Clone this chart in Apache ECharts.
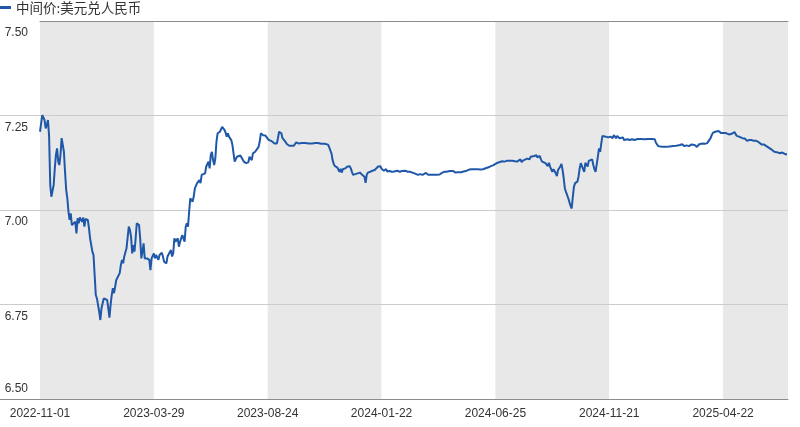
<!DOCTYPE html>
<html>
<head>
<meta charset="utf-8">
<script src="https://cdn.jsdelivr.net/npm/echarts@6/dist/echarts.min.js"></script>
<style>
html,body{margin:0;padding:0;background:#fff;}
#chart{width:800px;height:427px;}
</style>
</head>
<body>
<div id="chart"></div>
<script>
const seriesName = '中间价:美元兑人民币';
const tickLabels = ['2022-11-01','2023-03-29','2023-08-24','2024-01-22','2024-06-25','2024-11-21','2025-04-22'];
const yTicks = [6.50, 6.75, 7.00, 7.25, 7.50];
const totalDays = 657;
// trading-day index of each reading
const xDays = [
0,2,4,5,6,7,8,9,10,12,13,14,15,16,17,18,19,20,21,22,23,24,25,26,27,28,29,31,32,33,34,35,37,38,39,40,42,43,44,46,47,48,49,50,51,52,53,54,56,57,59,60,61,62,63,64,65,66,67,68,70,71,72,73,74,76,77,78,79,80,81,82,83,84,85,87,88,89,90,91,92,94,95,96,97,98,99,100,101,102,104,105,106,107,108,109,
111,112,113,115,116,117,118,119,121,122,123,124,125,127,128,129,130,131,132,134,135,136,137,138,139,140,141,142,143,145,146,147,148,149,150,151,152,153,154,155,156,158,159,160,161,162,163,164,165,166,168,169,170,171,172,173,174,176,177,179,180,181,182,183,184,186,187,188,189,190,192,193,194,195,196,198,199,201,203,204,206,208,209,210,211,212,213,215,217,219,
221,223,225,227,230,233,236,239,242,244,247,250,253,254,256,257,258,259,261,262,263,264,265,266,267,268,270,271,272,273,274,275,277,278,279,280,281,283,284,285,286,287,288,290,292,294,295,297,299,300,302,304,305,307,309,311,312,314,316,318,319,321,323,325,326,
327,329,332,334,336,337,339,341,342,345,348,351,353,355,357,360,363,365,367,368,370,372,374,375,377,379,381,384,385,387,389,392,394,396,398,400,402,403,406,408,410,412,413,415,417,419,420,422,423,425,426,428,430,431,432,434,436,437,439,
440,441,442,444,445,446,447,448,450,451,452,453,454,455,457,458,459,460,461,462,464,465,466,467,468,469,470,471,472,473,474,475,476,478,479,480,481,482,483,485,486,487,488,489,490,491,492,493,494,495,497,499,501,503,504,506,507,508,509,510,512,513,514,516,518,520,522,523,525,528,531,534,537,540,541,543,545,547,
550,553,556,559,562,564,566,568,570,572,573,575,577,579,580,582,584,586,587,589,590,591,593,594,596,597,598,600,601,602,603,605,607,608,610,611,612,614,615,617,619,620,621,623,624,625,627,629,631,632,634,636,638,639,641,643,645,647,648,650,652,653,655,656
];
const rates = [
7.207,7.251,7.238,7.216,7.225,7.238,7.194,7.066,7.035,7.066,7.110,7.146,7.163,7.128,7.119,7.146,7.190,7.194,7.154,7.101,7.053,7.031,6.996,6.974,6.991,6.960,6.956,6.969,6.938,6.978,6.965,6.980,6.969,6.980,6.956,6.976,6.974,6.952,6.925,6.890,6.881,6.828,6.775,6.766,6.771,6.731,6.709,6.740,6.766,6.771,6.762,6.740,6.715,6.749,6.775,6.793,6.780,6.797,6.815,6.815,6.833,6.854,6.868,6.859,6.877,6.899,6.897,6.956,6.947,6.929,6.885,6.907,6.890,6.925,6.965,6.960,6.925,6.872,6.890,6.912,6.872,6.872,6.874,6.868,6.841,6.872,6.877,6.885,6.872,6.881,6.868,6.881,6.877,6.887,6.877,6.863,
6.859,6.877,6.881,6.894,6.877,6.885,6.925,6.916,6.925,6.903,6.916,6.925,6.934,6.916,6.956,6.965,6.956,6.996,7.031,7.022,7.035,7.057,7.053,7.071,7.066,7.079,7.071,7.093,7.088,7.097,7.115,7.119,7.128,7.110,7.146,7.154,7.132,7.119,7.137,7.181,7.203,7.207,7.212,7.220,7.225,7.212,7.205,7.194,7.203,7.194,7.185,7.172,7.150,7.128,7.130,7.141,7.146,7.144,7.141,7.128,7.132,7.124,7.128,7.126,7.141,7.132,7.150,7.154,7.154,7.156,7.167,7.181,7.203,7.207,7.198,7.197,7.194,7.185,7.183,7.179,7.176,7.176,7.190,7.207,7.212,7.203,7.190,7.183,7.174,7.170,
7.170,7.170,7.179,7.176,7.177,7.177,7.176,7.176,7.177,7.177,7.175,7.175,7.173,7.166,7.150,7.132,7.122,7.116,7.113,7.110,7.101,7.109,7.099,7.108,7.113,7.110,7.115,7.113,7.116,7.110,7.101,7.093,7.095,7.093,7.097,7.095,7.099,7.093,7.097,7.088,7.072,7.093,7.099,7.101,7.104,7.106,7.109,7.115,7.116,7.109,7.104,7.108,7.102,7.103,7.101,7.102,7.101,7.104,7.101,7.103,7.102,7.104,7.101,7.101,7.101,
7.099,7.097,7.093,7.095,7.093,7.097,7.098,7.093,7.093,7.093,7.093,7.094,7.098,7.101,7.101,7.103,7.103,7.099,7.100,7.101,7.100,7.102,7.103,7.104,7.107,7.108,7.108,7.108,7.106,7.107,7.108,7.111,7.113,7.116,7.118,7.122,7.125,7.126,7.129,7.128,7.130,7.130,7.128,7.130,7.129,7.128,7.130,7.134,7.127,7.132,7.130,7.136,7.134,7.141,7.146,7.143,7.145,7.139,7.143,
7.134,7.128,7.132,7.124,7.125,7.116,7.125,7.115,7.101,7.108,7.110,7.097,7.090,7.106,7.115,7.122,7.106,7.084,7.057,7.048,7.031,7.026,7.011,7.004,7.035,7.062,7.071,7.072,7.075,7.088,7.110,7.124,7.125,7.101,7.125,7.124,7.115,7.130,7.128,7.134,7.119,7.108,7.101,7.097,7.141,7.163,7.154,7.176,7.196,7.198,7.194,7.192,7.194,7.190,7.198,7.190,7.196,7.201,7.190,7.187,7.192,7.185,7.183,7.187,7.185,7.187,7.185,7.187,7.188,7.188,7.187,7.188,7.188,7.187,7.178,7.169,7.168,7.167,
7.167,7.168,7.169,7.170,7.172,7.174,7.169,7.171,7.169,7.173,7.169,7.172,7.167,7.174,7.176,7.176,7.175,7.177,7.181,7.190,7.198,7.204,7.207,7.209,7.209,7.212,7.204,7.204,7.207,7.204,7.203,7.200,7.201,7.204,7.206,7.203,7.196,7.194,7.192,7.190,7.189,7.190,7.183,7.185,7.187,7.185,7.183,7.183,7.180,7.176,7.173,7.173,7.169,7.166,7.163,7.159,7.154,7.153,7.152,7.150,7.152,7.148,7.147,7.148
];

const FONT = '"Liberation Sans", Arial, sans-serif';
const chart = echarts.init(document.getElementById('chart'), null, {renderer: 'canvas'});
const data = xDays.map((d, i) => [d, rates[i]]);

chart.setOption({
  animation: false,
  backgroundColor: '#ffffff',
  legend: {
    show: true,
    left: 0,
    top: 0,
    padding: 0,
    itemWidth: 11,
    itemHeight: 3,
    itemGap: 10,
    icon: 'rect',
    textStyle: { fontFamily: '"Noto Sans CJK SC", sans-serif', fontSize: 13.5, color: '#333333', padding: [0,0,0,0], lineHeight: 15 },
    data: [seriesName]
  },
  grid: { left: 40, right: 12, top: 21, bottom: 28, containLabel: false },
  xAxis: [{
    type: 'value',
    z: 0,
    min: 0,
    max: totalDays,
    interval: 100,
    position: 'bottom',
    axisLine: { show: true, lineStyle: { color: '#8c8c8c', width: 1 } },
    axisTick: { show: false },
    splitLine: { show: false },
    splitArea: { show: true, areaStyle: { color: ['#e8e8e8', '#ffffff'] } },
    axisLabel: {
      show: true,
      margin: 9,
      fontFamily: FONT,
      fontSize: 12,
      color: '#333333',
      showMaxLabel: false,
      formatter: function (v) {
        if (v % 100 !== 0) return '';
        const i = v / 100;
        return tickLabels[i] || '';
      }
    }
  }, {
    type: 'value',
    z: 3,
    min: 0,
    max: totalDays,
    interval: 100,
    position: 'top',
    axisLine: { show: true, onZero: false, lineStyle: { color: '#8c8c8c', width: 1 } },
    axisTick: { show: false },
    axisLabel: { show: false },
    splitLine: { show: false },
    splitArea: { show: false }
  }],
  yAxis: [{
    type: 'value',
    z: 2,
    min: yTicks[0],
    max: yTicks[yTicks.length - 1],
    interval: 0.25,
    position: 'left',
    axisLine: { show: false },
    axisTick: { show: true, length: 40, customValues: yTicks.slice(1, -1), lineStyle: { color: '#cccccc', width: 1 } },
    splitLine: { show: true, lineStyle: { color: '#cccccc', width: 1 } },
    axisLabel: {
      show: true,
      margin: 12,
      fontFamily: FONT,
      fontSize: 12,
      color: '#333333',
      formatter: function (v) {
        const s = v.toFixed(2);
        return v === yTicks[0] ? '{b|' + s + '}' : '{t|' + s + '}';
      },
      rich: {
        t: { fontFamily: FONT, fontSize: 12, color: '#333333', padding: [24, 0, 0, 0] },
        b: { fontFamily: FONT, fontSize: 12, color: '#333333', padding: [0, 0, 20, 0] }
      }
    }
  }, {
    type: 'value',
    z: 2,
    min: yTicks[0],
    max: yTicks[yTicks.length - 1],
    interval: 0.25,
    position: 'left',
    axisLine: { show: false },
    axisLabel: { show: false },
    splitLine: { show: false },
    axisTick: { show: true, length: 40, customValues: [yTicks[0]], lineStyle: { color: '#8c8c8c', width: 1 } }
  }],
  series: [{
    name: seriesName,
    type: 'line',
    xAxisIndex: 0,
    yAxisIndex: 0,
    data: data,
    showSymbol: false,
    symbol: 'none',
    smooth: false,
    lineStyle: { color: '#1f58a8', width: 2 },
    itemStyle: { color: '#1f58a8' },
    z: 5
  }]
});
</script>
</body>
</html>
